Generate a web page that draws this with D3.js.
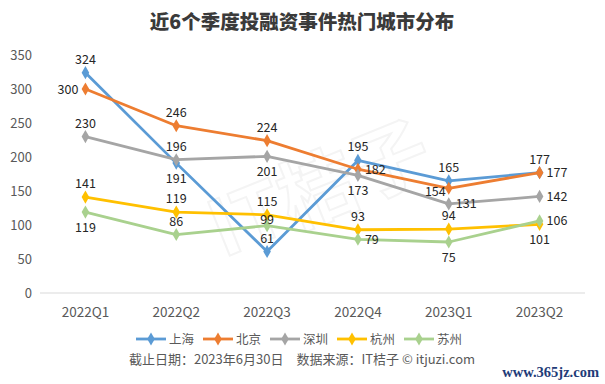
<!DOCTYPE html>
<html>
<head>
<meta charset="utf-8">
<script src="https://cdn.jsdelivr.net/npm/d3@7"></script>
<style>
  body { margin: 0; background: #fff; }
  text { font-family: "Noto Sans CJK SC", "Noto Sans", sans-serif; }
</style>
</head>
<body>
<script>
// data
var quarters = ["2022Q1", "2022Q2", "2022Q3", "2022Q4", "2023Q1", "2023Q2"];
var cities = ["上海", "北京", "深圳", "杭州", "苏州"];
var shanghai = [324, 191, 61, 195, 165, 177];
var beijing = [300, 246, 224, 182, 154, 177];
var shenzhen = [230, 196, 201, 173, 131, 142];
var hangzhou = [141, 119, 115, 93, 94, 101];
var suzhou = [119, 86, 99, 79, 75, 106];
var yTicks = [0, 50, 100, 150, 200, 250, 300, 350];

var seriesValues = [shanghai, beijing, shenzhen, hangzhou, suzhou];
var colors = ["#5b9bd5", "#ed7d31", "#a5a5a5", "#ffc000", "#a9d18e"];

// where each value label sits relative to its point
var labelPos = [
    ["up", "down", "up", "up", "up", "up"],
    ["left", "up", "up", "right", "downleft", "right"],
    ["up", "up", "down", "down", "right", "right"],
    ["up", "up", "up", "up", "up", "down"],
    ["down", "up", "upclose", "right", "down", "right"]
];

var W = 605, H = 384;
var svg = d3.select("body").append("svg")
    .attr("width", W)
    .attr("height", H);

// title
svg.append("text")
    .attr("x", 302).attr("y", 29)
    .attr("text-anchor", "middle")
    .style("font-size", "19.5px")
    .style("font-weight", "900")
    .attr("fill", "#3a3a3a")
    .text("近6个季度投融资事件热门城市分布");

// faint background logo
svg.append("text")
    .attr("transform", "translate(330,215) rotate(-22)")
    .attr("text-anchor", "middle")
    .style("font-size", "78px")
    .style("font-weight", "bold")
    .attr("fill", "none")
    .attr("stroke", "#f4f4f4")
    .attr("stroke-width", 2)
    .text("IT桔子");

var x = d3.scaleBand().domain(quarters).range([40, 585]);
var y = d3.scaleLinear().domain([0, 350]).range([293, 55]);

// y axis labels
svg.selectAll(".ytick")
    .data(yTicks)
    .enter()
    .append("text")
    .attr("class", "ytick")
    .attr("x", 32)
    .attr("y", function(d) { return y(d) + 4.5; })
    .attr("text-anchor", "end")
    .style("font-size", "13px")
    .attr("fill", "#595959")
    .text(function(d) { return d; });

// baseline
svg.append("line")
    .attr("x1", 40).attr("x2", 585)
    .attr("y1", y(0)).attr("y2", y(0))
    .attr("stroke", "#d9d9d9")
    .attr("stroke-width", 1.2);

// x axis labels
svg.selectAll(".xtick")
    .data(quarters)
    .enter()
    .append("text")
    .attr("class", "xtick")
    .attr("x", function(d) { return x(d) + x.bandwidth() / 2; })
    .attr("y", 317)
    .attr("text-anchor", "middle")
    .style("font-size", "13.5px")
    .attr("fill", "#595959")
    .text(function(d) { return d; });

var cx = function(i) { return x(quarters[i]) + x.bandwidth() / 2; };
var line = d3.line()
    .x(function(d, i) { return cx(i); })
    .y(function(d) { return y(d); });

var diamond = d3.symbol().type(d3.symbolDiamond).size(50);

// lines and markers, drawn back to front
seriesValues.forEach(function(vals, s) {
    var g = svg.append("g");
    g.append("path")
        .datum(vals)
        .attr("d", line)
        .attr("fill", "none")
        .attr("stroke", colors[s])
        .attr("stroke-width", 2.8)
        .attr("stroke-linejoin", "round");
    g.selectAll("path.mark")
        .data(vals)
        .enter()
        .append("path")
        .attr("class", "mark")
        .attr("d", diamond)
        .attr("transform", function(d, i) { return "translate(" + cx(i) + "," + y(d) + ")"; })
        .attr("fill", colors[s]);
});

// value labels
seriesValues.forEach(function(vals, s) {
    svg.selectAll(".lbl" + s)
        .data(vals)
        .enter()
        .append("text")
        .attr("class", "lbl" + s)
        .attr("x", function(d, i) {
            var p = labelPos[s][i];
            if (p == "left") return cx(i) - 7;
            if (p == "downleft") return cx(i) - 3;
            if (p == "right") return cx(i) + 7;
            return cx(i);
        })
        .attr("y", function(d, i) {
            var p = labelPos[s][i];
            if (p == "up") return y(d) - 9;
            if (p == "upclose") return y(d) - 1.5;
            if (p == "down") return y(d) + 20;
            if (p == "downleft") return y(d) + 8;
            return y(d) + 4.5;
        })
        .attr("text-anchor", function(d, i) {
            var p = labelPos[s][i];
            if (p == "left" || p == "downleft") return "end";
            if (p == "right") return "start";
            return "middle";
        })
        .style("font-size", "12.5px")
        .attr("fill", "#262626")
        .text(function(d) { return d; });
});

// legend
var legend = svg.selectAll(".leg")
    .data(cities)
    .enter()
    .append("g")
    .attr("class", "leg")
    .attr("transform", function(d, i) { return "translate(" + (136 + i * 67) + ",339)"; });
legend.append("line")
    .attr("x1", 0).attr("x2", 30)
    .attr("stroke", function(d, i) { return colors[i]; })
    .attr("stroke-width", 2.8);
legend.append("path")
    .attr("d", diamond)
    .attr("transform", "translate(15,0)")
    .attr("fill", function(d, i) { return colors[i]; });
legend.append("text")
    .attr("x", 33).attr("y", 4.5)
    .style("font-size", "12.5px")
    .attr("fill", "#595959")
    .text(function(d) { return d; });

// footer note
svg.append("text")
    .attr("x", 302).attr("y", 364)
    .attr("text-anchor", "middle")
    .style("font-size", "13px")
    .attr("fill", "#595959")
    .text("截止日期：2023年6月30日　数据来源：IT桔子 © itjuzi.com");

// site stamp
svg.append("text")
    .attr("x", 599).attr("y", 377)
    .attr("text-anchor", "end")
    .style("font-family", "'Liberation Serif', serif")
    .style("font-size", "14.5px")
    .style("font-weight", "bold")
    .attr("fill", "#1f3c78")
    .text("www.365jz.com");
</script>
</body>
</html>
